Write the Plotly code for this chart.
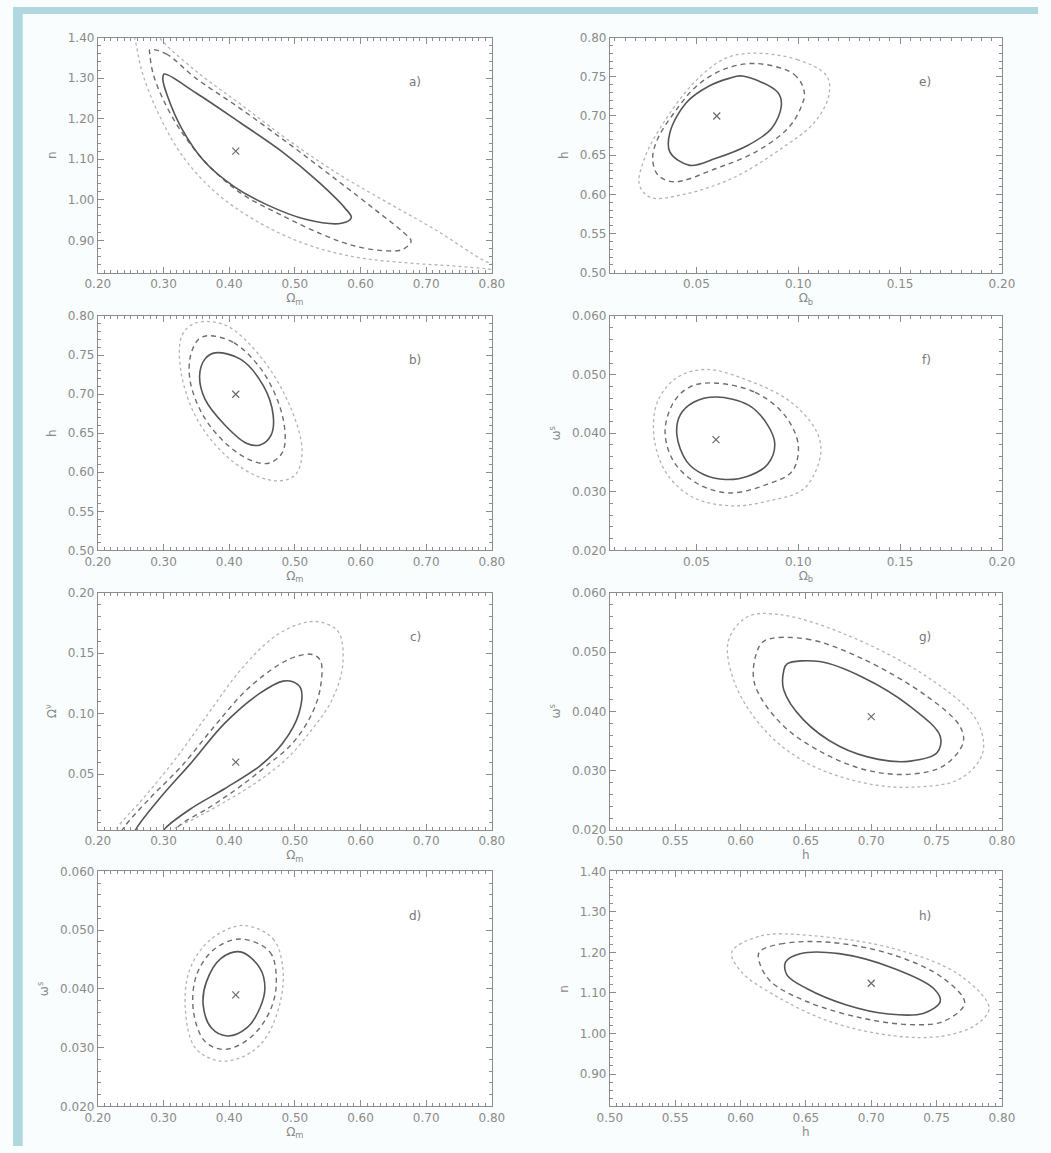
import plotly.graph_objects as go

W, H = 1051, 1153

# ---------------- data (x, y) ----------------
# a) Omega_m vs n
a_best = [(0.41, 1.12)]
a_solid = [(0.301, 1.31), (0.349, 1.264), (0.417, 1.19), (0.482, 1.117), (0.536, 1.044),
           (0.576, 0.98), (0.586, 0.956), (0.571, 0.942), (0.516, 0.952), (0.457, 0.988),
           (0.408, 1.032), (0.363, 1.093), (0.328, 1.175), (0.306, 1.256), (0.299, 1.297)]
a_dashed = [(0.279, 1.37), (0.304, 1.360), (0.349, 1.300), (0.417, 1.225), (0.491, 1.138),
            (0.566, 1.046), (0.625, 0.972), (0.665, 0.920), (0.677, 0.898), (0.665, 0.878),
            (0.640, 0.874), (0.591, 0.886), (0.541, 0.915), (0.477, 0.964), (0.417, 1.017),
            (0.368, 1.086), (0.328, 1.166), (0.299, 1.249), (0.284, 1.312), (0.279, 1.361)]
a_dotted = [(0.250, 1.43), (0.256, 1.40), (0.268, 1.312), (0.294, 1.207), (0.328, 1.11),
            (0.378, 1.02), (0.442, 0.947), (0.516, 0.891), (0.591, 0.859), (0.665, 0.845),
            (0.739, 0.837), (0.79, 0.830), (0.81, 0.828), (0.81, 0.835), (0.789, 0.849),
            (0.714, 0.926), (0.640, 0.994), (0.566, 1.064), (0.491, 1.146), (0.417, 1.236),
            (0.349, 1.318), (0.294, 1.40), (0.285, 1.43)]

# e) Omega_b vs h
e_best = [(0.060, 0.70)]
e_solid = [(0.0725, 0.751), (0.090, 0.730), (0.0917, 0.713), (0.0869, 0.684), (0.0756, 0.663),
           (0.0596, 0.646), (0.0467, 0.637), (0.037, 0.654), (0.037, 0.679), (0.045, 0.717),
           (0.056, 0.738), (0.066, 0.748)]
e_dashed = [(0.079, 0.767), (0.098, 0.753), (0.103, 0.73), (0.101, 0.709), (0.0948, 0.684),
            (0.079, 0.654), (0.0596, 0.633), (0.039, 0.616), (0.031, 0.625), (0.0285, 0.646),
            (0.031, 0.671), (0.039, 0.704), (0.050, 0.738), (0.063, 0.759)]
e_dotted = [(0.0756, 0.780), (0.0995, 0.772), (0.114, 0.751), (0.115, 0.726), (0.108, 0.692),
            (0.092, 0.659), (0.068, 0.621), (0.0438, 0.600), (0.0276, 0.596), (0.022, 0.612),
            (0.0245, 0.646), (0.034, 0.692), (0.0486, 0.742), (0.063, 0.772)]

# b) Omega_m vs h
b_best = [(0.41, 0.70)]
b_solid = [(0.378, 0.753), (0.417, 0.745), (0.452, 0.711), (0.467, 0.673), (0.464, 0.648),
           (0.447, 0.635), (0.427, 0.637), (0.393, 0.661), (0.363, 0.694), (0.355, 0.724),
           (0.363, 0.745)]
b_dashed = [(0.368, 0.775), (0.407, 0.766), (0.452, 0.728), (0.482, 0.669), (0.482, 0.627),
            (0.462, 0.612), (0.437, 0.614), (0.403, 0.631), (0.363, 0.669), (0.341, 0.715),
            (0.341, 0.749), (0.353, 0.770)]
b_dotted = [(0.348, 0.791), (0.393, 0.789), (0.447, 0.749), (0.492, 0.686), (0.511, 0.627),
            (0.501, 0.597), (0.477, 0.589), (0.437, 0.597), (0.388, 0.627), (0.348, 0.673),
            (0.326, 0.732), (0.328, 0.775)]

# f) Omega_b vs omega^s
f_best = [(0.0596, 0.0389)]
f_solid = [(0.0596, 0.0462), (0.0756, 0.0448), (0.085, 0.0414), (0.0885, 0.0381), (0.085, 0.0347),
           (0.0756, 0.0327), (0.0644, 0.0321), (0.0533, 0.0330), (0.0452, 0.0352), (0.0404, 0.0397),
           (0.0420, 0.0431), (0.0486, 0.0453)]
f_dashed = [(0.058, 0.0486), (0.0788, 0.047), (0.0933, 0.0431), (0.100, 0.038), (0.097, 0.0335),
            (0.085, 0.0313), (0.0659, 0.0298), (0.050, 0.0315), (0.0388, 0.0352), (0.0346, 0.0403),
            (0.0388, 0.0453), (0.0467, 0.0479)]
f_dotted = [(0.0548, 0.0509), (0.0756, 0.049), (0.0965, 0.0453), (0.109, 0.0403), (0.111, 0.0364),
            (0.103, 0.0306), (0.085, 0.0284), (0.0676, 0.0276), (0.0486, 0.0290), (0.0356, 0.033),
            (0.0293, 0.039), (0.0308, 0.0453), (0.0404, 0.0495)]

# c) Omega_m vs Omega^nu
c_best = [(0.41, 0.060)]
c_solid = [(0.25, -0.005), (0.259, 0.0055), (0.294, 0.030), (0.343, 0.060), (0.393, 0.092),
           (0.447, 0.117), (0.482, 0.127), (0.497, 0.1264), (0.509, 0.121), (0.506, 0.100),
           (0.482, 0.076), (0.447, 0.057), (0.393, 0.038), (0.343, 0.022), (0.303, 0.0055),
           (0.29, -0.005)]
c_dashed = [(0.23, -0.004), (0.239, 0.0055), (0.279, 0.030), (0.328, 0.057), (0.378, 0.090),
            (0.427, 0.120), (0.477, 0.141), (0.506, 0.148), (0.526, 0.149), (0.539, 0.144),
            (0.539, 0.122), (0.526, 0.100), (0.497, 0.076), (0.457, 0.057), (0.412, 0.038),
            (0.368, 0.022), (0.323, 0.007), (0.31, -0.003)]
c_dotted = [(0.22, -0.004), (0.229, 0.0055), (0.269, 0.030), (0.318, 0.0625), (0.368, 0.100),
            (0.417, 0.136), (0.467, 0.163), (0.506, 0.174), (0.536, 0.176), (0.566, 0.168),
            (0.573, 0.141), (0.556, 0.111), (0.526, 0.087), (0.487, 0.0625), (0.442, 0.0435),
            (0.393, 0.027), (0.348, 0.0136), (0.318, 0.0055), (0.305, -0.002)]

# g) h vs omega^s
g_best = [(0.70, 0.0391)]
g_solid = [(0.6356, 0.048), (0.6606, 0.0484), (0.693, 0.0458), (0.730, 0.0408), (0.7528, 0.0358),
           (0.7503, 0.033), (0.730, 0.0316), (0.7055, 0.0319), (0.6756, 0.0341), (0.648, 0.0386),
           (0.6331, 0.0436), (0.6331, 0.0469)]
g_dashed = [(0.6182, 0.0519), (0.6506, 0.0522), (0.693, 0.0489), (0.7429, 0.0425), (0.7678, 0.0375),
            (0.7703, 0.0347), (0.7554, 0.0308), (0.730, 0.0294), (0.698, 0.030), (0.663, 0.033),
            (0.6307, 0.038), (0.6107, 0.0447), (0.612, 0.0497)]
g_dotted = [(0.6057, 0.056), (0.6307, 0.0563), (0.680, 0.053), (0.7429, 0.0458), (0.7803, 0.0386),
            (0.7853, 0.033), (0.7678, 0.0286), (0.730, 0.0272), (0.693, 0.028), (0.6506, 0.0313),
            (0.6182, 0.0369), (0.5957, 0.0447), (0.5907, 0.0519)]

# d) Omega_m vs omega^s
d_best = [(0.41, 0.039)]
d_solid = [(0.4173, 0.0463), (0.447, 0.0435), (0.4544, 0.0401), (0.447, 0.0368), (0.4272, 0.0334),
           (0.3975, 0.032), (0.3727, 0.0334), (0.3604, 0.0373), (0.3653, 0.0412), (0.3876, 0.0452)]
d_dashed = [(0.4173, 0.0485), (0.4619, 0.0463), (0.4718, 0.0412), (0.4619, 0.0362), (0.4321, 0.0317),
            (0.3926, 0.0297), (0.3629, 0.0311), (0.3456, 0.0362), (0.3504, 0.0424), (0.3777, 0.0468)]
d_dotted = [(0.4222, 0.0508), (0.4669, 0.0485), (0.4817, 0.0435), (0.4767, 0.0373), (0.452, 0.0311),
            (0.4173, 0.0283), (0.3827, 0.0278), (0.348, 0.030), (0.3331, 0.0368), (0.3406, 0.0435),
            (0.3727, 0.0485)]

# h) h vs n
h_best = [(0.70, 1.124)]
h_solid = [(0.6344, 1.176), (0.6456, 1.197), (0.6755, 1.197), (0.7179, 1.16), (0.7478, 1.111),
           (0.7528, 1.079), (0.7403, 1.05), (0.713, 1.048), (0.6805, 1.071), (0.6506, 1.111),
           (0.6356, 1.144)]
h_dashed = [(0.6144, 1.201), (0.6307, 1.221), (0.6681, 1.225), (0.7179, 1.193), (0.7553, 1.136),
            (0.7715, 1.075), (0.7553, 1.03), (0.7304, 1.022), (0.693, 1.038), (0.6506, 1.079),
            (0.6232, 1.128), (0.6144, 1.176)]
h_dotted = [(0.5933, 1.201), (0.6157, 1.241), (0.6556, 1.241), (0.7179, 1.209), (0.7678, 1.144),
            (0.7902, 1.063), (0.7803, 1.022), (0.7553, 0.994), (0.7179, 0.994), (0.668, 1.03),
            (0.6257, 1.095), (0.6007, 1.152)]

panel_labels = ["a)", "e)", "b)", "f)", "c)", "g)", "d)", "h)"]

# ---------------- layout ----------------
COLS = [(87, 491), (612, 1014)]
ROWS = [(31, 269), (313, 550), (593, 833), (875, 1113)]

OM = "Ω<sub>m</sub>"
OB = "Ω<sub>b</sub>"
OMS = "ω<sup>s</sup>"
ONU = "Ω<sup>ν</sup>"

panels = [
    # key, row, col, xrange, xdtick, xfmt, xtitle, yrange, ydtick, yfmt, ytitle
    ("a", 0, 0, [0.20, 0.80], 0.1, ".2f", OM, [0.82, 1.40], 0.1, ".2f", "n"),
    ("e", 0, 1, [0.0075, 0.20], 0.05, ".2f", OB, [0.50, 0.80], 0.05, ".2f", "h"),
    ("b", 1, 0, [0.20, 0.80], 0.1, ".2f", OM, [0.50, 0.80], 0.05, ".2f", "h"),
    ("f", 1, 1, [0.0075, 0.20], 0.05, ".2f", OB, [0.020, 0.060], 0.01, ".3f", OMS),
    ("c", 2, 0, [0.20, 0.80], 0.1, ".2f", OM, [0.004, 0.20], 0.05, ".2f", ONU),
    ("g", 2, 1, [0.50, 0.80], 0.05, ".2f", "h", [0.020, 0.060], 0.01, ".3f", OMS),
    ("d", 3, 0, [0.20, 0.80], 0.1, ".2f", OM, [0.020, 0.060], 0.01, ".3f", OMS),
    ("h", 3, 1, [0.50, 0.80], 0.05, ".2f", "h", [0.82, 1.40], 0.1, ".2f", "n"),
]

data = {
    "a": (a_solid, a_dashed, a_dotted, a_best),
    "e": (e_solid, e_dashed, e_dotted, e_best),
    "b": (b_solid, b_dashed, b_dotted, b_best),
    "f": (f_solid, f_dashed, f_dotted, f_best),
    "c": (c_solid, c_dashed, c_dotted, c_best),
    "g": (g_solid, g_dashed, g_dotted, g_best),
    "d": (d_solid, d_dashed, d_dotted, d_best),
    "h": (h_solid, h_dashed, h_dotted, h_best),
}

TICKFONT = dict(family="DejaVu Sans", size=12, color="#8a8a8a")
TITLEFONT = dict(family="DejaVu Sans", size=12, color="#8a8a8a")
AXCOL = "#8c8c8c"

styles = [
    dict(color="#555555", width=1.6, dash="solid"),
    dict(color="#6e6e6e", width=1.4, dash="5px,4px"),
    dict(color="#b4b4b4", width=1.3, dash="dot"),
]

fig = go.Figure()
annotations = []

for i, (key, r, c, xr, xdt, xf, xt, yr, ydt, yf, yt) in enumerate(panels):
    n = i + 1
    xa = "x" if n == 1 else f"x{n}"
    ya = "y" if n == 1 else f"y{n}"
    xl = "xaxis" if n == 1 else f"xaxis{n}"
    yl = "yaxis" if n == 1 else f"yaxis{n}"
    x0p, x1p = COLS[c]
    y0p, y1p = ROWS[r]
    solid, dashed, dotted, best = data[key]
    for j, pts in enumerate([dotted, dashed, solid]):
        st = styles[2 - j]
        p = list(pts)
        if key not in ("a", "c") or (key == "a" and j > 0):
            p = p + [p[0]]
        fig.add_trace(go.Scatter(
            x=[q[0] for q in p], y=[q[1] for q in p], mode="lines",
            line=dict(color=st["color"], width=st["width"], dash=st["dash"],
                      shape="spline", smoothing=1.0),
            xaxis=xa, yaxis=ya, showlegend=False, hoverinfo="skip"))
    fig.add_trace(go.Scatter(
        x=[q[0] for q in best], y=[q[1] for q in best], mode="markers",
        marker=dict(symbol="x-thin", size=7, line=dict(color="#6a6a6a", width=1.2)),
        xaxis=xa, yaxis=ya, showlegend=False, hoverinfo="skip"))

    common = dict(showgrid=False, zeroline=False, showline=True, linecolor=AXCOL, linewidth=1,
                  mirror="allticks", ticks="inside", tickcolor=AXCOL, ticklen=6, tickwidth=1,
                  tickfont=TICKFONT, fixedrange=True)
    fig.layout[xl] = dict(
        common, domain=[x0p / W, x1p / W], anchor=ya, range=xr, tick0=0, dtick=xdt,
        tickformat=xf, title=dict(text=xt, font=TITLEFONT, standoff=1),
        minor=dict(ticks="inside", ticklen=3, tickcolor=AXCOL, dtick=xdt / 10))
    fig.layout[yl] = dict(
        common, domain=[1 - y1p / H, 1 - y0p / H], anchor=xa, range=yr, tick0=0, dtick=ydt,
        tickformat=yf, title=dict(text=yt, font=TITLEFONT, standoff=8),
        minor=dict(ticks="inside", ticklen=3, tickcolor=AXCOL, dtick=ydt / 5))
    annotations.append(dict(
        text=panel_labels[i], xref=f"{xa} domain", yref=f"{ya} domain", x=0.825, y=0.85,
        showarrow=False, font=dict(family="DejaVu Sans", size=12, color="#777777")))

fig.update_layout(
    width=W, height=H, margin=dict(l=0, r=0, t=0, b=0),
    paper_bgcolor="#fafdfd", plot_bgcolor="#ffffff",
    annotations=annotations,
    shapes=[
        dict(type="rect", xref="paper", yref="paper", x0=0, x1=10 / W, y0=0, y1=1,
             fillcolor="#afd9de", line=dict(width=0), layer="below"),
        dict(type="rect", xref="paper", yref="paper", x0=0, x1=1, y0=1 - 7 / H, y1=1,
             fillcolor="#afd9de", line=dict(width=0), layer="below"),
    ],
)

fig.write_html("out.html")
